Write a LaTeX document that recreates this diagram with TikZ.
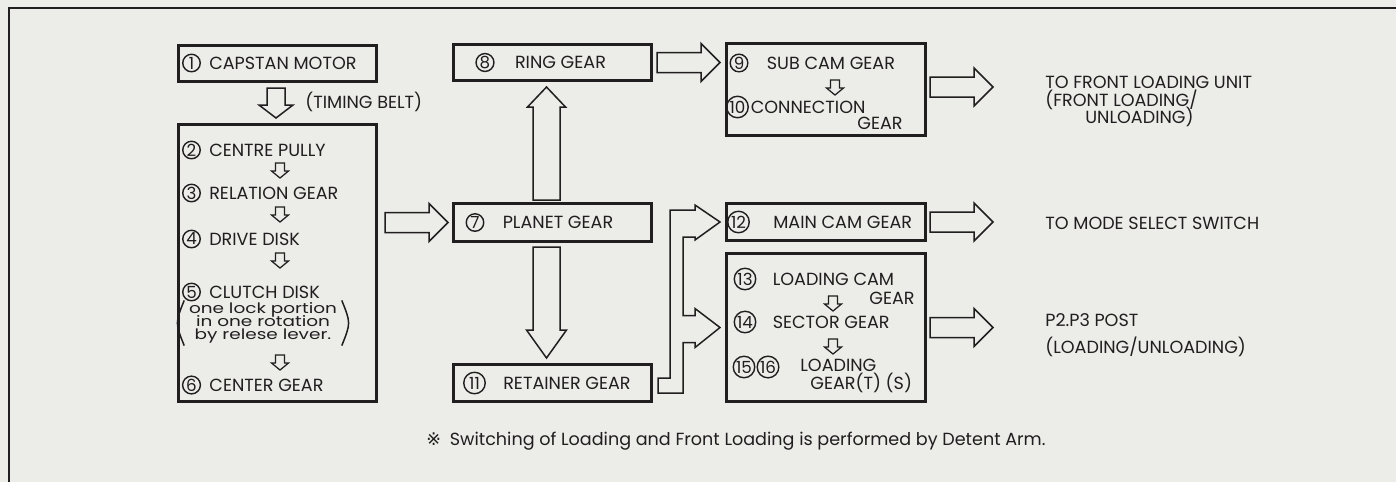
\documentclass[tikz,border=0pt]{standalone}
\usepackage{fontspec}
\setmainfont{Poppins}
\newfontfamily\refmark{DejaVu Sans}
\newfontfamily\notefont[FakeStretch=1.28]{Poppins}
\newcommand\notesize{\notefont\fontsize{8.2}{7.6}\selectfont\setlength{\lineskiplimit}{-10pt}}
\usetikzlibrary{positioning,calc}
\definecolor{ink}{RGB}{32,30,30}
\definecolor{paper}{RGB}{236,236,233}
\def\BoxW{39.6mm}
\def\BoxWr{39.8mm}

\tikzset{
  gbox/.style 2 args={draw=ink, line width=0.6mm, minimum width=#1, minimum height=#2, inner sep=0pt},
  num/.style={circle, draw=ink, line width=0.28mm, inner sep=0.3pt, minimum size=3.5mm,
    font=\fontsize{9.5}{9.5}\selectfont, text=ink},
  wnum/.style={num, minimum size=4.3mm},
  lbl/.style={inner sep=0pt, text height=7pt, text depth=0pt, text=ink,
    font=\fontsize{10}{12}\selectfont},
  blk/.style n args={3}{draw=ink, line width=0.3mm, fill=paper,
    to path={let \p1=(\tikztostart), \p2=(\tikztotarget), \p3=($(\p2)!#3!(\p1)$) in
      ($(\p1)!#1!90:(\p2)$) -- ($(\p3)!#1!90:(\p2)$) -- ($(\p3)!#2!90:(\p2)$) -- (\p2)
      -- ($(\p3)!#2!-90:(\p2)$) -- ($(\p3)!#1!-90:(\p2)$) -- ($(\p1)!#1!-90:(\p2)$) -- cycle}},
  wide/.style={blk={2mm}{3.8mm}{3.8mm}},
  belt/.style={blk={1.8mm}{3.4mm}{2.6mm}},
  tiny/.style={blk={0.9mm}{1.7mm}{1.4mm}, line width=0.25mm},
}

\begin{document}
\begin{tikzpicture}[x=0.2mm, y=-0.2mm]
  \fill[paper] (0,0) rectangle (1396,482);
  \useasboundingbox (0,0) rectangle (1396,482);
  \draw[ink, line width=0.45mm] (9,482) -- (9,8) -- (1396,8);

  % gear boxes
  \node[gbox={\BoxW}{7.2mm}] (b1) at (277.5,63.5) {};
  \node[gbox={\BoxW}{55.4mm}] (b2) at (277.5,263) {};
  \node[gbox={\BoxW}{7.2mm}] (b8) at (552.5,62.5) {};
  \node[gbox={\BoxW}{7.6mm}] (b7) at (552.5,222.5) {};
  \node[gbox={\BoxW}{7.4mm}] (b11) at (552.5,383) {};
  \node[gbox={\BoxWr}{18.4mm}] (b9) at (826,89.5) {};
  \node[gbox={\BoxWr}{7.4mm}] (b12) at (826,222) {};
  \node[gbox={\BoxWr}{29.6mm}] (b13) at (826,327.5) {};

  \node[num] (n1) at (191.5,63) {1};
  \node[lbl, right=1.6mm of n1] {CAPSTAN MOTOR};
  \foreach \n/\ypos/\t in {2/150/CENTRE PULLY, 3/193/RELATION GEAR, 4/239/DRIVE DISK,
      5/292/CLUTCH DISK, 6/385/CENTER GEAR} {
    \node[num] (n\n) at (191.5,\ypos) {\n};
    \node[lbl, right=1.6mm of n\n] {\t};
  }
  \foreach \ya/\yb in {163/178,207/222,253/268,355/370}
    \draw[tiny] (280,\ya) to (280,\yb);
  \node[inner sep=0.3mm, align=center, text=ink, font=\notesize]
    (clnote) at (263,323) {one lock portion\\in one rotation\\by relese lever.};
  \draw[ink, line width=0.3mm] ([xshift=-0.6mm]clnote.north west)
    .. controls ([xshift=-2.4mm]clnote.west) .. ([xshift=-0.6mm]clnote.south west);
  \draw[ink, line width=0.3mm] ([xshift=0.6mm]clnote.north east)
    .. controls ([xshift=2.4mm]clnote.east) .. ([xshift=0.6mm]clnote.south east);

  \node[num] (n8) at (485,62.5) {8};
  \node[lbl, right=4mm of n8] {RING GEAR};
  \node[num] (n7) at (475,222.5) {7};
  \node[lbl, right=3.6mm of n7] {PLANET GEAR};
  \node[wnum] (n11) at (474.5,383) {11};
  \node[lbl, right=3.4mm of n11] {RETAINER GEAR};

  \node[num] (n9) at (739,63) {9};
  \node[lbl, right=3.6mm of n9] {SUB CAM GEAR};
  \node[wnum] (n10) at (737.5,107) {10};
  \node[lbl, right=0.3mm of n10] {CONNECTION};
  \node[lbl, anchor=east] at (903,123) {GEAR};
  \draw[tiny] (835,80) to (835,95);
  \node[wnum] (n12) at (738.5,222) {12};
  \node[lbl, right=4.6mm of n12] {MAIN CAM GEAR};

  \node[wnum] (n13) at (745,279) {13};
  \node[lbl, right=3.2mm of n13] {LOADING CAM};
  \node[lbl, anchor=east] at (915,298) {GEAR};
  \node[wnum] (n14) at (745,322) {14};
  \node[lbl, right=3.2mm of n14] {SECTOR GEAR};
  \node[wnum] (n15) at (744,367) {15};
  \node[wnum] (n16) at (768,367) {16};
  \node[lbl, anchor=west] at (800,365) {LOADING};
  \node[lbl, anchor=west] at (810,383) {GEAR(T) (S)};
  \draw[tiny] (833,296) to (833,311);
  \draw[tiny] (833,339) to (833,354);

  % outputs
  \node[lbl, anchor=west] (belttxt) at (305,102) {(TIMING BELT)};
  \node[lbl, anchor=west] (front) at (1045,82) {TO FRONT LOADING UNIT};
  \node[lbl, anchor=west] at (1045,100) {(FRONT LOADING/};
  \node[lbl, anchor=west] at (1085,117) {UNLOADING)};
  \node[lbl, anchor=west] (modesw) at (1045,223) {TO MODE SELECT SWITCH};
  \node[lbl, anchor=west] (post) at (1045,320) {P2.P3 POST};
  \node[lbl, anchor=west] at (1045,347) {(LOADING/UNLOADING)};
  \node[lbl, anchor=west, text height=8pt, text depth=2pt] (fnote) at (426,440)
    {{\refmark ※}\enspace Switching of Loading and Front Loading is performed by Detent Arm.};

  % drive train
  \draw[belt] ($(b1.south)+(-1.5,5)$) to ($(b2.north)+(-1.5,-5)$);
  \draw[wide] ($(b2.east |- b7.west)+(7,0)$) to ($(b7.west)+(-4,0)$);
  \draw[blk={2.7mm}{3.8mm}{4mm}] ($(b7.north)+(-6,-2)$) to ($(b8.south)+(-6,5)$);
  \draw[blk={2.7mm}{4mm}{5.6mm}] ($(b7.south)+(-6,4)$) to ($(b11.north)+(-6,-5)$);
  \draw[wide] ($(b8.east)+(4,0)$) to ($(b9.west |- b8.east)+(-5,0)$);
  \draw[wide] ($(b9.east)+(3,-2.5)$) to ($(b9.east -| front.west)+(-52,-2.5)$);
  \draw[wide] ($(b12.east)+(3,0)$) to ($(b12.east -| modesw.west)+(-52,0)$);
  \draw[wide] ($(b13.east)+(3,0)$) to ($(b13.east -| post.west)+(-52,0)$);

  \coordinate (t12) at ($(b12.west)+(-5,0)$);
  \coordinate (t13) at ($(b13.west)+(-5,0)$);
  \draw[ink, line width=0.3mm, fill=paper] ($(b11.east)+(5,-5)$) -- ++(12,0)
    |- ($(t12)+(-25,-12)$) -- ++(0,-5) -- (t12) -- ++(-25,18) -- ++(0,-3) -- ++(-12,0)
    |- ($(t13)+(-25,-12)$) -- ++(0,-7) -- (t13) -- ++(-25,20) -- ++(0,-5) -- ++(-12,0)
    |- ($(b11.east)+(5,10)$) -- cycle;
\end{tikzpicture}
\end{document}
